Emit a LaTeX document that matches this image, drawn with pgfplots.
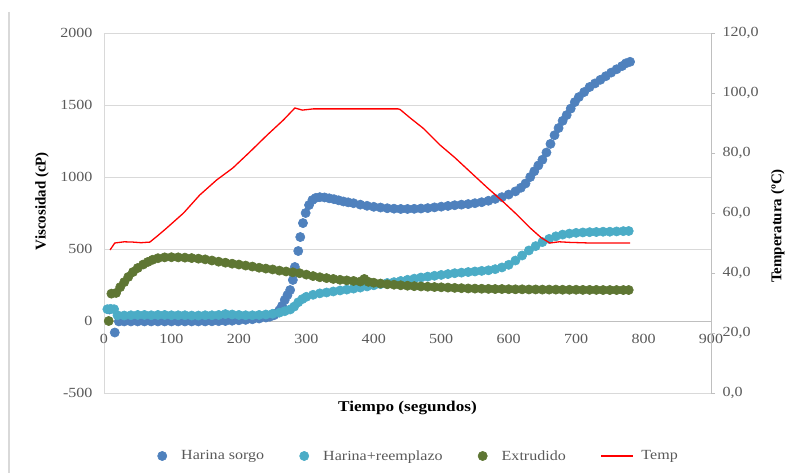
\documentclass[border=0pt]{standalone}
\usepackage{fontspec}
\setmainfont[FakeStretch=1.15]{Liberation Serif}
\newfontfamily\rotfont{Liberation Serif}
\usepackage{pgfplots}
\pgfplotsset{compat=1.18}
\definecolor{cBlue}{HTML}{4F81BD}
\definecolor{cCyan}{HTML}{4BACC6}
\definecolor{cGreen}{HTML}{5E7633}
\definecolor{cRed}{HTML}{FF0000}
\definecolor{cGrid}{HTML}{D9D9D9}
\definecolor{cAxis}{HTML}{BFBFBF}
\definecolor{cTick}{HTML}{595959}
\pgfplotsset{
  dotleg/.style={legend image code/.code={\path[draw=none,fill=none] (-5bp,0bp) -- (17bp,0bp);\draw[##1] plot coordinates {(0bp,0bp)};}},
}
\begin{document}
\begin{tikzpicture}
\path[use as bounding box] (-104bp,-80bp) rectangle (695bp,393bp);
\draw[black!15, line width=1.2bp] (-95bp,381bp) -- (-95bp,-80bp);
\begin{axis}[
  at={(0bp,0bp)}, anchor=south west, scale only axis, width=607bp, height=360bp,
  xmin=0, xmax=900, ymin=-500, ymax=2000,
  axis x line=middle, axis y line=left,
  hide obscured x ticks=false, hide obscured y ticks=false,
  x axis line style={-, draw=cAxis, line width=0.8bp},
  y axis line style={-, draw=cGrid, line width=0.8bp},
  xtick={0,100,200,300,400,500,600,700,800,900},
  xticklabels={0,100,200,300,400,500,600,700,800,900},
  ytick={-500,0,500,1000,1500,2000},
  yticklabels={-500,0,500,1000,1500,2000},
  major tick length=0pt,
  ymajorgrids, grid style={cGrid, line width=0.8bp},
  tick label style={font=\fontsize{14}{16}\selectfont, text=cTick},
  xticklabel style={anchor=north, yshift=-10bp},
  yticklabel style={anchor=east, xshift=-8bp},
  clip=false,
  legend style={at={(axis description cs:0.5,0)}, anchor=center, xshift=11bp, yshift=-63bp,
    draw=none, fill=none, legend columns=4, font=\fontsize{14}{16}\selectfont, text=cTick,
    /tikz/every even column/.append style={column sep=33bp}},
]
\addplot[only marks, mark=*, mark size=4.6bp, mark options={draw=cBlue, fill=cBlue, line width=0.6bp}, dotleg] coordinates {
(8,80) (16,-80) (22,-3) (30,-3) (40,-3) (50,-3) (60,-3) (70,-3) (80,-3) (90,-3) (100,-3) (110,-3) (120,-3) (130,-3) (140,-3) (150,-3) (160,-2) (170,-1) (180,0) (190,2) (200,5) (210,8) (220,12) (230,17) (240,24) (246,30) (252,40) (256,55) (260,75) (264,105) (268,146) (272,180) (276,215) (280,285) (283,375) (288,486) (291,583) (295,680) (299,750) (304,805) (309,840) (314,855) (320,860) (327,858) (334,852) (341,846) (348,838) (355,830) (362,824) (370,818) (380,808) (390,800) (400,793) (410,788) (420,783) (430,780) (440,778) (450,778) (460,779) (470,781) (480,784) (490,789) (500,794) (510,799) (520,804) (530,808) (540,812) (550,818) (560,825) (570,835) (580,848) (590,860) (600,878) (610,900) (618,925) (625,955) (632,1000) (638,1040) (644,1080) (650,1120) (656,1170) (662,1230) (668,1290) (674,1340) (680,1390) (686,1430) (692,1475) (698,1520) (704,1555) (712,1590) (720,1625) (728,1650) (736,1675) (744,1700) (752,1725) (760,1748) (768,1770) (774,1790) (780,1800)
};
\addlegendentry{Harina sorgo}
\addplot[only marks, mark=*, mark size=4.6bp, mark options={draw=cCyan, fill=cCyan, line width=0.6bp}, dotleg] coordinates {
(5,82) (10,84) (15,82) (20,40) (30,38) (40,40) (50,42) (60,42) (70,40) (80,42) (90,42) (100,40) (110,40) (120,40) (130,38) (140,38) (150,40) (160,40) (170,42) (180,48) (190,45) (200,42) (210,40) (220,40) (230,42) (240,45) (250,50) (260,58) (268,68) (276,80) (282,100) (288,130) (294,152) (300,168) (310,182) (320,192) (330,198) (340,205) (350,212) (360,218) (370,225) (380,232) (390,240) (400,248) (410,256) (420,264) (430,270) (440,278) (450,286) (460,294) (470,302) (480,308) (490,314) (500,320) (510,326) (520,332) (530,336) (540,340) (550,344) (560,348) (570,352) (580,360) (590,372) (600,390) (610,420) (620,455) (630,490) (640,520) (650,548) (660,570) (670,588) (680,600) (690,607) (700,612) (710,615) (720,617) (730,618) (740,620) (750,620) (760,622) (770,624) (778,625)
};
\addlegendentry{Harina+reemplazo}
\addplot[only marks, mark=*, mark size=4.6bp, mark options={draw=cGreen, fill=cGreen, line width=0.6bp}, dotleg] coordinates {
(7,0) (11,190) (18,195) (24,235) (30,270) (36,306) (43,340) (50,368) (58,392) (65,410) (72,425) (80,436) (90,442) (100,443) (110,442) (120,440) (130,437) (140,433) (150,428) (160,420) (170,412) (180,405) (190,398) (200,392) (210,385) (220,378) (230,370) (240,364) (250,358) (260,350) (270,344) (280,338) (290,332) (300,322) (310,312) (320,304) (330,298) (340,292) (350,286) (360,282) (370,278) (380,274) (386,292) (392,272) (400,266) (410,260) (420,255) (430,252) (440,248) (450,245) (460,242) (470,240) (480,238) (490,236) (500,234) (510,232) (520,230) (530,228) (540,226) (550,225) (560,224) (570,223) (580,222) (590,222) (600,221) (610,220) (620,220) (630,219) (640,219) (650,218) (660,218) (670,218) (680,217) (690,217) (700,217) (710,216) (720,216) (730,216) (740,215) (750,215) (760,215) (770,215) (778,215)
};
\addlegendentry{Extrudido}
\addlegendimage{legend image code/.code={\path[draw=none] (0bp,0bp) -- (38bp,0bp);\draw[cRed, line width=1.3bp] (0bp,0bp) -- (32bp,0bp);}}
\addlegendentry{Temp}
\node[rotate=90, font=\rotfont\bfseries\fontsize{15}{17}\selectfont] at (axis description cs:-0.102,0.533) {Viscosidad (cP)};
\node[rotate=90, font=\rotfont\bfseries\fontsize{15}{17}\selectfont] at (axis description cs:1.110,0.464) {Temperatura (ºC)};
\node[font=\bfseries\fontsize{15}{17}\selectfont] at (axis description cs:0.5,-0.042) {Tiempo (segundos)};
\end{axis}
\begin{axis}[
  at={(0bp,0bp)}, anchor=south west, scale only axis, width=607bp, height=360bp,
  xmin=0, xmax=900, ymin=0, ymax=120,
  axis y line*=right, axis x line=none,
  y axis line style={-, draw=cAxis, line width=0.8bp},
  ytick={0,20,40,60,80,100,120},
  yticklabels={{0,0},{20,0},{40,0},{60,0},{80,0},{100,0},{120,0}},
  tick align=outside, major tick length=4bp,
  ytick style={draw=cAxis, line width=0.8bp},
  tick label style={font=\fontsize{14}{16}\selectfont, text=cTick},
  yticklabel style={anchor=west, xshift=4bp},
  clip=false,
]
\addplot[cRed, line width=1.3bp, no marks] coordinates {
(9,47.7) (16,50) (30,50.4) (43,50.3) (55,50.1) (68,50.3) (80,52.5) (93,55) (118,60) (142,66) (167,71) (191,75) (216,80.3) (242,86) (266,91) (283,95) (294,94.3) (310,94.7) (360,94.7) (400,94.7) (436,94.7) (439,94.5) (455,91.5) (473,88.3) (498,82.7) (520,78.5) (543,73.7) (568,68.5) (592,63.7) (612,59.5) (632,55) (648,51.8) (661,50) (675,50.4) (691,50.2) (720,50) (750,50) (780,50)
};
\end{axis}
\end{tikzpicture}
\end{document}
